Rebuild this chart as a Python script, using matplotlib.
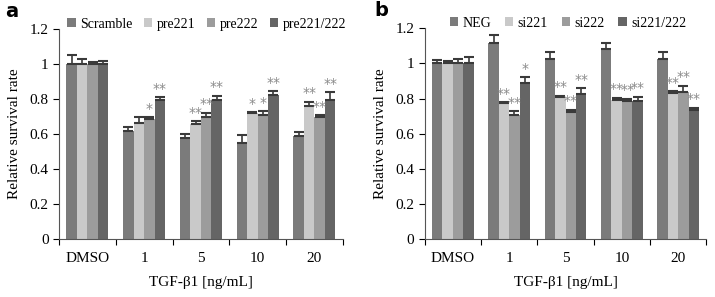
import numpy as np
import matplotlib.pyplot as plt

plt.rcParams['font.family'] = ['Liberation Serif', 'DejaVu Serif']

groups = ["DMSO", "1", "5", "10", "20"]

# panel a
labels_a = ["Scramble", "pre221", "pre222", "pre221/222"]
vals_a = [
    [1.00, 0.615, 0.578, 0.550, 0.588],
    [1.00, 0.665, 0.660, 0.720, 0.763],
    [1.00, 0.684, 0.700, 0.710, 0.700],
    [1.00, 0.792, 0.792, 0.822, 0.796],
]
err_a = [
    [0.050, 0.028, 0.020, 0.046, 0.023],
    [0.030, 0.035, 0.013, 0.006, 0.022],
    [0.013, 0.014, 0.022, 0.020, 0.008],
    [0.019, 0.018, 0.028, 0.024, 0.045],
]
stars_a = [
    ["", "", "", "", ""],
    ["", "", "**", "*", "**"],
    ["", "*", "**", "*", "**"],
    ["", "**", "**", "**", "**"],
]

# panel b
labels_b = ["NEG", "si221", "si222", "si221/222"]
vals_b = [
    [1.00, 1.117, 1.027, 1.079, 1.027],
    [1.00, 0.773, 0.811, 0.793, 0.830],
    [1.00, 0.705, 0.725, 0.785, 0.838],
    [1.00, 0.890, 0.824, 0.785, 0.736],
]
err_b = [
    [0.020, 0.044, 0.038, 0.038, 0.038],
    [0.015, 0.005, 0.005, 0.011, 0.011],
    [0.022, 0.023, 0.011, 0.013, 0.034],
    [0.035, 0.030, 0.033, 0.026, 0.011],
]
stars_b = [
    ["", "", "", "", ""],
    ["", "**", "**", "**", "**"],
    ["", "**", "**", "**", "**"],
    ["", "*", "**", "**", "**"],
]

colors = ["#7b7b7b", "#c9c9c9", "#9c9c9c", "#656565"]


def draw(ax, labels, vals, errs, stars, letter, leg_x, colsp, let_x):
    x = np.arange(len(groups)) + 0.5
    w = 0.185
    for i, lab in enumerate(labels):
        pos = x + (i - 1.5) * w
        v = np.array(vals[i])
        e = np.array(errs[i])
        ax.bar(pos, v, width=w, color=colors[i], label=lab, zorder=2)
        ax.errorbar(pos, v, yerr=[np.zeros_like(e), e], fmt='none',
                    ecolor="#3a3a3a", elinewidth=1.2, capsize=3.5, capthick=1.5, zorder=3)
        for j, s in enumerate(stars[i]):
            if s:
                ax.text(pos[j], v[j] + e[j] + 0.008, s,
                        ha='center', va='bottom', fontsize=10, color="#8a8a8a",
                        family='DejaVu Sans')
    ax.set_xlim(0, len(groups))
    ax.set_ylim(0, 1.2)
    ax.set_xticks(np.arange(len(groups) + 1))
    ax.set_xticklabels([])
    ax.set_xticks(x, minor=True)
    ax.set_xticklabels(groups, minor=True)
    ax.tick_params(axis='x', which='minor', length=0, pad=9, labelsize=11)
    ax.tick_params(axis='x', which='major', length=4, direction='out')
    ax.set_yticks([0, 0.2, 0.4, 0.6, 0.8, 1.0, 1.2])
    ax.set_yticklabels(["0", "0.2", "0.4", "0.6", "0.8", "1", "1.2"])
    ax.tick_params(axis='y', length=4, labelsize=11)
    for sp in ["top", "right"]:
        ax.spines[sp].set_visible(False)
    ax.spines["left"].set_color("#555555")
    ax.spines["bottom"].set_color("#555555")
    ax.set_ylabel("Relative survival rate", fontsize=11, labelpad=6)
    ax.set_xlabel("TGF-β1 [ng/mL]", fontsize=11, labelpad=8)
    ax.legend(loc='lower left', bbox_to_anchor=(leg_x, 0.98), ncol=4, frameon=False,
              fontsize=10, handlelength=0.6, handleheight=0.6, handletextpad=0.3,
              columnspacing=colsp, borderaxespad=0.0, borderpad=0.2)
    ax.text(let_x, 1.04, letter, transform=ax.transAxes, fontsize=14,
            fontweight='bold', family='DejaVu Sans', va='bottom')


fig = plt.figure(figsize=(7.15, 2.97), dpi=100)
ax1 = fig.add_axes([0.0825, 0.195, 0.397, 0.707])
ax2 = fig.add_axes([0.594, 0.195, 0.394, 0.71])
draw(ax1, labels_a, vals_a, err_a, stars_a, "a", 0.02, 0.85, -0.19)
draw(ax2, labels_b, vals_b, err_b, stars_b, "b", 0.08, 1.0, -0.18)
fig.savefig("out.png", dpi=100)
